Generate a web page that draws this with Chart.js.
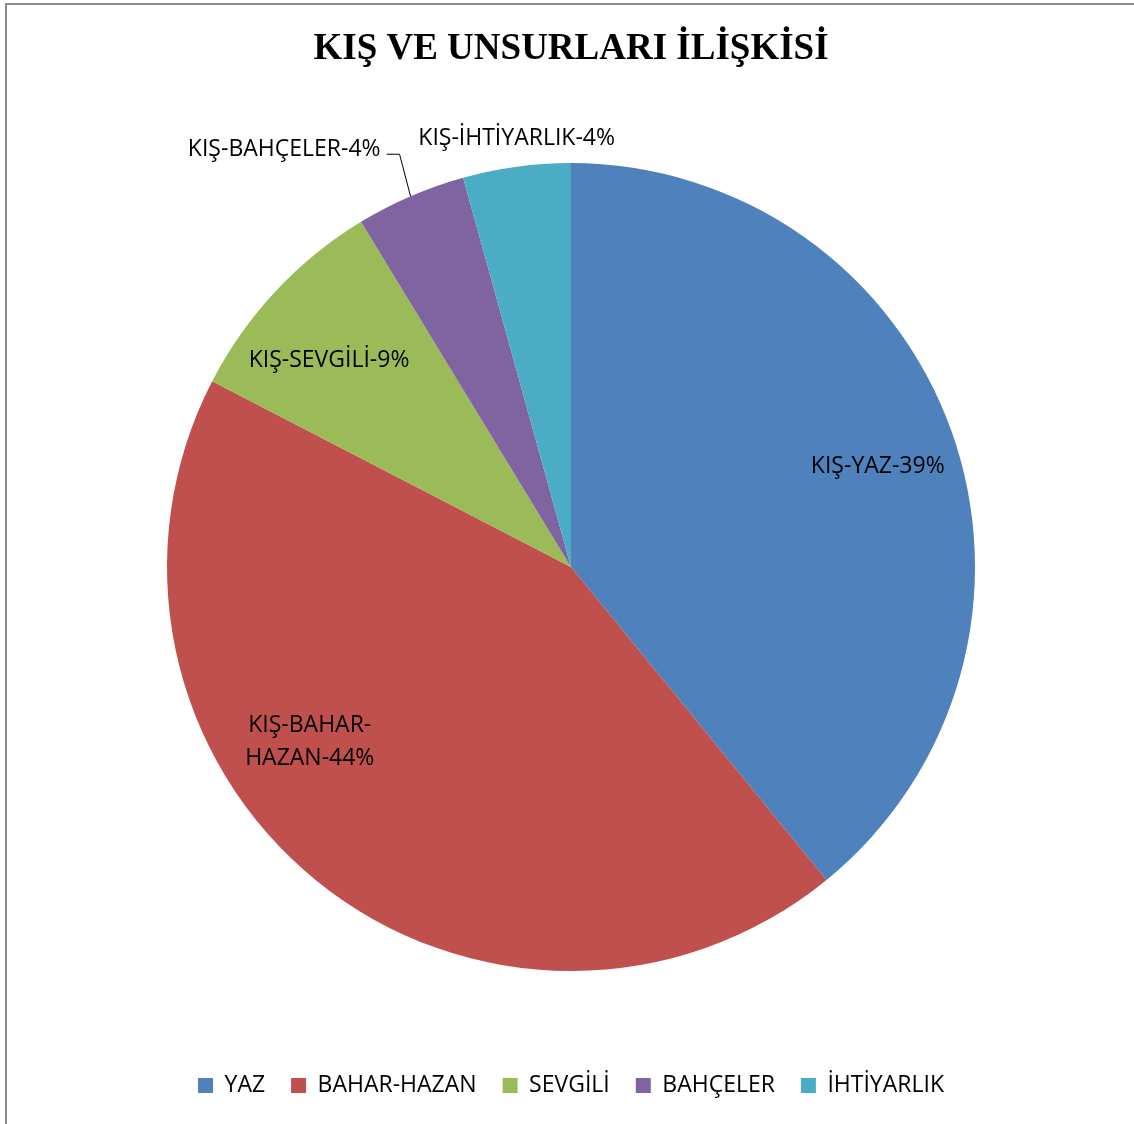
<!DOCTYPE html>
<html><head><meta charset="utf-8">
<script src="https://cdn.jsdelivr.net/npm/chart.js@4/dist/chart.umd.min.js"></script>
<style>html,body{margin:0;padding:0;background:#fff;} #wrap{width:1134px;height:1124px;position:relative;overflow:hidden}</style>
</head><body><div id="wrap"><canvas id="c" width="1134" height="1124"></canvas></div>
<script>
const categories = ['YAZ', 'BAHAR-HAZAN', 'SEVGİLİ', 'BAHÇELER', 'İHTİYARLIK'];
const values = [39.1, 43.5, 8.7, 4.4, 4.3];
const labelPrefix = 'KIŞ';
const titleText = 'KIŞ VE UNSURLARI İLİŞKİSİ';
const colors = ['#4F81BD', '#C0504D', '#9BBB59', '#8064A2', '#4BACC6'];

// label placement (styling / layout, not data)
const labelPlacement = [
  {t: 0.509, r: 0.80},
  {t: 0.611, r: 0.776, wrap: 150, lineGap: 33},
  {t: 0.426, r: 0.79},
  {leader: true, dx: -11, dy: -42, hx: -13, gap: 6, tdy: -6.5},
  {t: 0.535, r: 1.074}
];
const LABEL_FONT = '23px "Open Sans"';
const CAP = 0.714 * 23;

const framePlugin = {
  id: 'frame',
  beforeDraw(chart) {
    const ctx = chart.ctx;
    ctx.save();
    ctx.fillStyle = '#fff';
    ctx.fillRect(0, 0, chart.width, chart.height);
    ctx.strokeStyle = '#8c8c8c';
    ctx.lineWidth = 2;
    ctx.strokeRect(6, 4, chart.width + 20, chart.height + 20);
    ctx.restore();
  }
};

function wrapText(ctx, text, maxW) {
  const tokens = text.match(/[^-]+-?|-/g);
  const lines = [];
  let cur = '';
  tokens.forEach(tk => {
    if (cur && ctx.measureText(cur + tk).width > maxW) { lines.push(cur); cur = tk; }
    else cur += tk;
  });
  if (cur) lines.push(cur);
  return lines;
}

const sliceLabels = {
  id: 'sliceLabels',
  afterDatasetsDraw(chart) {
    const ctx = chart.ctx;
    const meta = chart.getDatasetMeta(0);
    const total = values.reduce((a, b) => a + b, 0);
    ctx.save();
    ctx.font = LABEL_FONT;
    ctx.fillStyle = '#000';
    ctx.textBaseline = 'alphabetic';
    meta.data.forEach((arc, i) => {
      const p = arc.getProps(['x', 'y', 'startAngle', 'endAngle', 'outerRadius'], true);
      const pct = Math.round(values[i] / total * 100);
      const text = labelPrefix + '-' + categories[i] + '-' + pct + '%';
      const spec = labelPlacement[i];
      if (spec.leader) {
        const mid = (p.startAngle + p.endAngle) / 2;
        const ex = p.x + Math.cos(mid) * p.outerRadius;
        const ey = p.y + Math.sin(mid) * p.outerRadius;
        const bx = ex + spec.dx, by = ey + spec.dy;
        const hx = bx + spec.hx;
        ctx.strokeStyle = '#000';
        ctx.lineWidth = 1;
        ctx.beginPath();
        ctx.moveTo(ex, ey);
        ctx.lineTo(bx, by);
        ctx.lineTo(hx, by);
        ctx.stroke();
        ctx.textAlign = 'right';
        ctx.fillText(text, hx - spec.gap, by + spec.tdy + CAP / 2);
      } else {
        const a = p.startAngle + (p.endAngle - p.startAngle) * spec.t;
        const cx = p.x + Math.cos(a) * p.outerRadius * spec.r;
        const cy = p.y + Math.sin(a) * p.outerRadius * spec.r;
        ctx.textAlign = 'center';
        const lines = spec.wrap ? wrapText(ctx, text, spec.wrap) : [text];
        const gap = spec.lineGap || 0;
        lines.forEach((ln, k) => {
          const ly = cy + (k - (lines.length - 1) / 2) * gap;
          ctx.fillText(ln, cx, ly + CAP / 2);
        });
      }
    });
    ctx.restore();
  }
};

new Chart(document.getElementById('c'), {
  type: 'pie',
  data: {
    labels: categories,
    datasets: [{
      data: values,
      backgroundColor: colors,
      borderWidth: 0,
      radius: 404
    }]
  },
  options: {
    responsive: false,
    devicePixelRatio: 1,
    animation: false,
    layout: {padding: {left: 8, right: 0, top: 0, bottom: 17}},
    plugins: {
      title: {
        display: true,
        text: titleText,
        color: '#000',
        font: {family: '"Liberation Serif", "Times New Roman", serif', size: 37, weight: 'bold', lineHeight: 1.2},
        padding: {top: 27.5, bottom: 14.1}
      },
      legend: {
        display: true,
        position: 'bottom',
        labels: {
          color: '#000',
          font: {family: '"Open Sans"', size: 23},
          boxWidth: 15,
          boxHeight: 15,
          padding: 26
        }
      },
      tooltip: {enabled: false}
    }
  },
  plugins: [framePlugin, sliceLabels]
});
</script>
</body></html>
